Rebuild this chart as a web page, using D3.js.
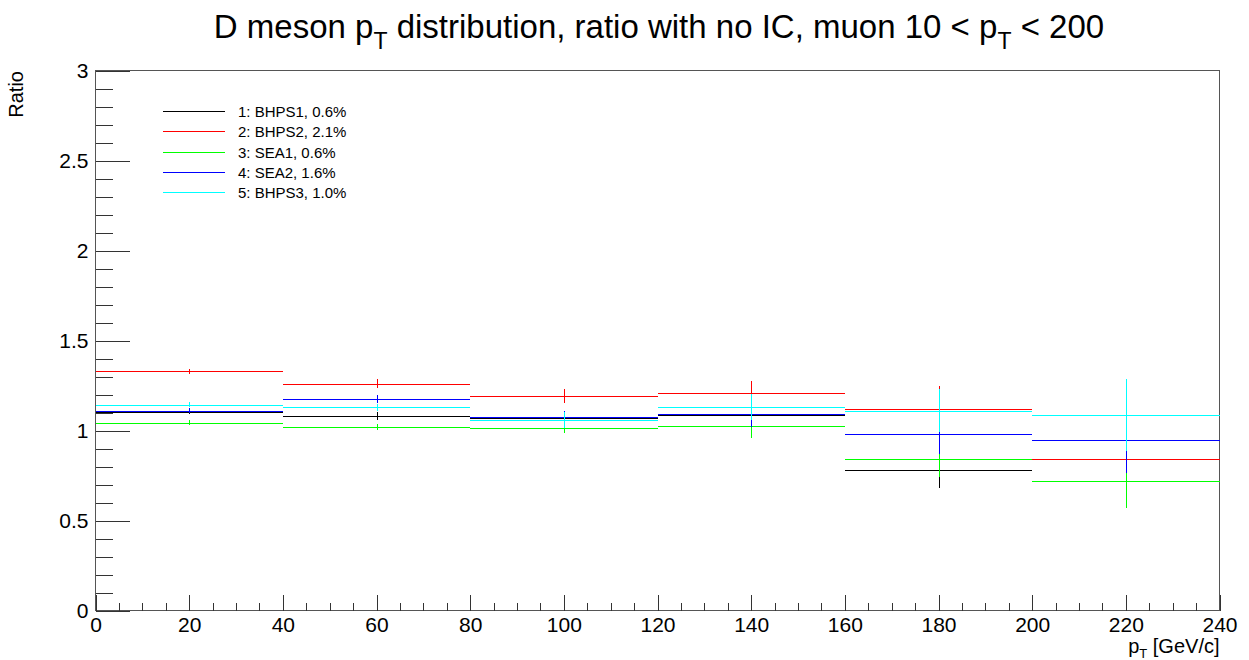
<!doctype html>
<html>
  <head>
    <script src="https://cdnjs.cloudflare.com/ajax/libs/d3/7.8.5/d3.min.js"></script>
    <style>
      body { margin: 0; background: #fff; }
      text { font-family: "Liberation Sans", Arial, sans-serif; }
    </style>
  </head>
<body>
  <svg id="chart" width="1249" height="660"></svg>
  <script>
    // bin edges in pT [GeV/c]
    var binEdges = [0, 40, 80, 120, 160, 200, 240];
    var seriesNames = ["1: BHPS1, 0.6%", "2: BHPS2, 2.1%", "3: SEA1, 0.6%", "4: SEA2, 1.6%", "5: BHPS3, 1.0%"];
    var seriesColors = ["#000000", "#ff0000", "#00ff00", "#0000ff", "#00ffff"];
    var xTicks = [0, 20, 40, 60, 80, 100, 120, 140, 160, 180, 200, 220, 240];
    var yTicks = [0, 0.5, 1, 1.5, 2, 2.5, 3];

    // ratio per bin (null = empty bin) and error per bin
    var bhps1 = [1.104, 1.081, 1.070, 1.088, 0.780, null];
    var bhps2 = [1.328, 1.261, 1.193, 1.207, 1.117, 0.843];
    var sea1  = [1.044, 1.020, 1.015, 1.024, 0.843, 0.720];
    var sea2  = [1.111, 1.176, 1.076, 1.093, 0.978, 0.948];
    var bhps3 = [1.143, 1.130, 1.058, 1.130, 1.111, 1.087];

    var bhps1Err = [0.013, 0.020, 0.035, 0.065, 0.098, 0];
    var bhps2Err = [0.013, 0.023, 0.038, 0.069, 0.128, 0.08];
    var sea1Err  = [0.013, 0.018, 0.030, 0.067, 0.100, 0.150];
    var sea2Err  = [0.015, 0.024, 0.035, 0.074, 0.111, 0.185];
    var bhps3Err = [0.013, 0.020, 0.045, 0.072, 0.122, 0.200];

    var allValues = [bhps1, bhps2, sea1, sea2, bhps3];
    var allErrors = [bhps1Err, bhps2Err, sea1Err, sea2Err, bhps3Err];

    drawChart();

    function drawChart() {
      var svg = d3.select("#chart");
      var padL = 95.5, padR = 1219.5, padT = 70.5, padB = 610.5;

      var x = d3.scaleLinear().domain([0, 240]).range([padL, padR]);
      var y = d3.scaleLinear().domain([0, 3]).range([padB, padT]);

      // frame
      svg.append("rect")
         .attr("x", padL).attr("y", padT)
         .attr("width", padR - padL).attr("height", padB - padT)
         .style("fill", "none").style("stroke", "#555").style("stroke-width", "1px");

      // x axis: major + minor ticks, pointing inward
      var xMinor = d3.axisBottom(x).tickValues(d3.range(0, 241, 5)).tickSize(-8).tickFormat("");
      var xMajor = d3.axisBottom(x).tickValues(xTicks).tickSize(-16).tickPadding(7);
      svg.append("g").attr("transform", "translate(0," + padB + ")").call(xMinor);
      var gx = svg.append("g").attr("transform", "translate(0," + padB + ")").call(xMajor);

      // y axis
      var yMinor = d3.axisLeft(y).tickValues(d3.range(0, 31).map(d => d / 10)).tickSize(-17).tickFormat("");
      var yMajor = d3.axisLeft(y).tickValues(yTicks).tickSize(-34).tickFormat(d3.format("~g"));
      svg.append("g").attr("transform", "translate(" + padL + ",0)").call(yMinor);
      var gy = svg.append("g").attr("transform", "translate(" + padL + ",0)").call(yMajor);

      svg.selectAll(".domain").remove();
      svg.selectAll(".tick line").style("stroke", "#333").style("shape-rendering", "crispEdges");
      gx.selectAll(".tick text").style("font-size", "21px").style("fill", "#000").style("font-family", "Liberation Sans");
      gy.selectAll(".tick text").style("font-size", "21px").style("fill", "#000").style("font-family", "Liberation Sans")
        .attr("x", -7).attr("dy", "0.35em");

      // histograms with error bars
      allValues.forEach((vals, s) => {
        var g = svg.append("g").style("stroke", seriesColors[s]).style("stroke-width", "1px")
                   .style("shape-rendering", "crispEdges");
        vals.forEach((v, i) => {
          if (v === null) return;
          var c = (binEdges[i] + binEdges[i + 1]) / 2;
          var e = allErrors[s][i];
          var yy = Math.round(y(v)) + 0.5;
          g.append("line")
           .attr("x1", x(binEdges[i])).attr("x2", x(binEdges[i + 1]))
           .attr("y1", yy).attr("y2", yy);
          g.append("line")
           .attr("x1", Math.round(x(c)) + 0.5).attr("x2", Math.round(x(c)) + 0.5)
           .attr("y1", y(v + e)).attr("y2", y(v - e));
        });
      });

      // legend
      var legend = svg.append("g");
      seriesNames.forEach((name, i) => {
        var ly = Math.round(111 + i * 20.3) + 0.5;
        legend.append("line")
              .attr("x1", 163).attr("x2", 225).attr("y1", ly).attr("y2", ly)
              .style("stroke", seriesColors[i]).style("stroke-width", "1px")
              .style("shape-rendering", "crispEdges");
        legend.append("text")
              .attr("x", 238).attr("y", ly + 5)
              .style("font-size", "15px")
              .text(name);
      });

      // title
      var title = svg.append("text")
         .attr("x", 659).attr("y", 38)
         .attr("text-anchor", "middle")
         .style("font-size", "33px");
      title.append("tspan").text("D meson p");
      title.append("tspan").attr("dy", 11).style("font-size", "23px").text("T");
      title.append("tspan").attr("dy", -11).text(" distribution, ratio with no IC, muon 10 < p");
      title.append("tspan").attr("dy", 11).style("font-size", "23px").text("T");
      title.append("tspan").attr("dy", -11).text(" < 200");

      // axis titles
      var xt = svg.append("text")
         .attr("x", padR).attr("y", 653)
         .attr("text-anchor", "end")
         .style("font-size", "20px");
      xt.append("tspan").text("p");
      xt.append("tspan").attr("dy", 5).style("font-size", "13px").text("T");
      xt.append("tspan").attr("dy", -5).text(" [GeV/c]");

      svg.append("text")
         .attr("transform", "translate(23,71) rotate(-90)")
         .attr("text-anchor", "end")
         .style("font-size", "20px")
         .text("Ratio");
    }
  </script>
</body>
</html>
